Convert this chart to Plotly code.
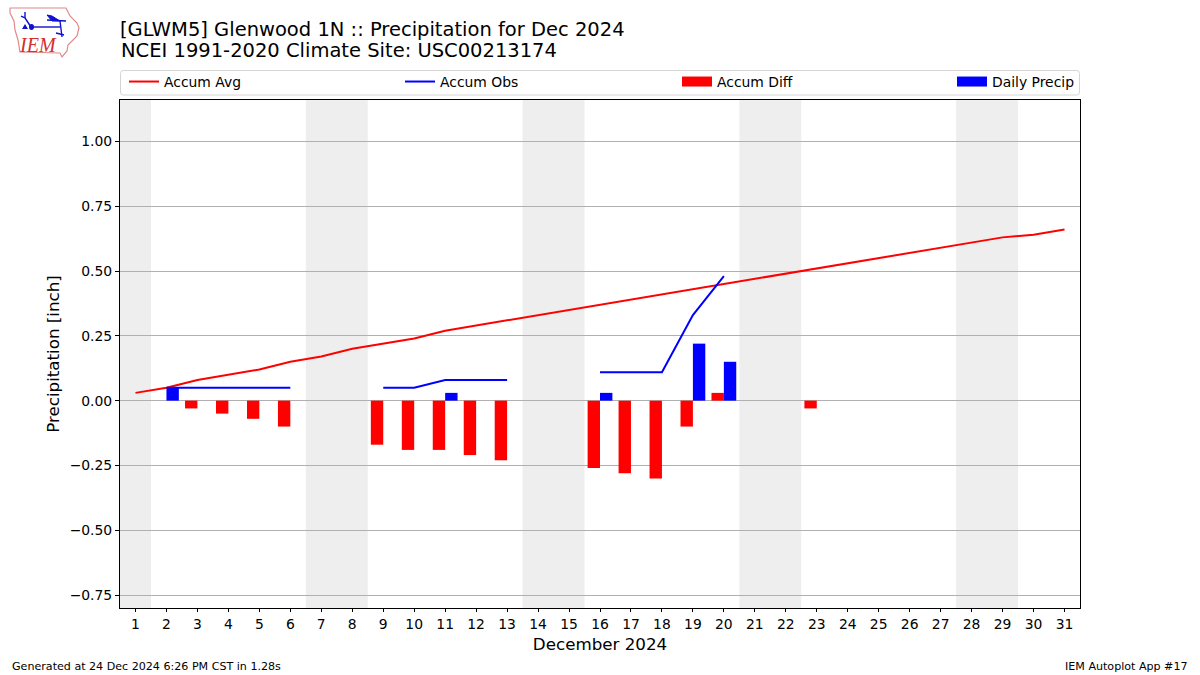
import plotly.graph_objects as go

days = list(range(1, 32))
accum_avg = [0.03, 0.05, 0.08, 0.10, 0.12, 0.15, 0.17, 0.20, 0.22, 0.24, 0.27, 0.29, 0.31, 0.33, 0.35, 0.37,
             0.39, 0.41, 0.43, 0.45, 0.47, 0.49, 0.51, 0.53, 0.55, 0.57, 0.59, 0.61, 0.63, 0.64, 0.66]
accum_obs = [None, 0.05, 0.05, 0.05, 0.05, 0.05, None, None, 0.05, 0.05, 0.08, 0.08, 0.08, None, None, 0.11,
             0.11, 0.11, 0.33, 0.48, None, None, None, None, None, None, None, None, None, None, None]
diff_days = [3, 4, 5, 6, 9, 10, 11, 12, 13, 16, 17, 18, 19, 20, 23]
accum_diff = [-0.03, -0.05, -0.07, -0.10, -0.17, -0.19, -0.19, -0.21, -0.23, -0.26, -0.28, -0.30, -0.10, 0.03, -0.03]
precip_days = [2, 11, 16, 19, 20]
daily_precip = [0.05, 0.03, 0.03, 0.22, 0.15]
weekend_spans = [(0.5, 1.5), (6.5, 8.5), (13.5, 15.5), (20.5, 22.5), (27.5, 29.5)]
y_ticks = [-0.75, -0.50, -0.25, 0.00, 0.25, 0.50, 0.75, 1.00]

FONT = "DejaVu Sans"
L, R, T, B = 120, 1080, 100, 608


def px(x):
    return (x - L) / (R - L)


def py(y):
    return (B - y) / (B - T)


def logo_path(points, close=False):
    d = "M " + " L ".join(f"{px(x):.5f},{py(y):.5f}" for x, y in points)
    return d + (" Z" if close else "")


fig = go.Figure()
fig.add_trace(go.Scatter(x=days, y=accum_avg, mode="lines", name="Accum Avg", legend="legend",
                         line=dict(color="#ff0000", width=2)))
fig.add_trace(go.Scatter(x=days, y=accum_obs, mode="lines", name="Accum Obs", legend="legend2",
                         line=dict(color="#0000ff", width=2), connectgaps=False))
fig.add_trace(go.Bar(x=diff_days, y=accum_diff, name="Accum Diff", showlegend=False,
                     marker=dict(color="#ff0000", line_width=0), width=0.4, offset=-0.4))
fig.add_trace(go.Bar(x=precip_days, y=daily_precip, name="Daily Precip", showlegend=False,
                     marker=dict(color="#0000ff", line_width=0), width=0.4, offset=0))
# legend keys for the bars: plotly's bar key is a small square, the reference has wide flat keys
fig.add_trace(go.Scatter(x=[None], y=[None], mode="lines", name="Accum Diff", legend="legend3",
                         line=dict(color="#ff0000", width=10)))
fig.add_trace(go.Scatter(x=[None], y=[None], mode="lines", name="Daily Precip", legend="legend4",
                         line=dict(color="#0000ff", width=10)))

shapes = [dict(type="rect", xref="x", yref="paper", x0=a, x1=b, y0=0, y1=1, fillcolor="#eeeeee",
               line_width=0, layer="below") for a, b in weekend_spans]

# legend frame (rounded)
lx0, lx1, ly0, ly1, r = px(120.5), px(1079.5), py(70.5), py(95), 3
rx, ry = r / (R - L), r / (B - T)
shapes.append(dict(type="path", xref="paper", yref="paper",
                   path=(f"M {lx0 + rx},{ly0} L {lx1 - rx},{ly0} Q {lx1},{ly0} {lx1},{ly0 - ry} "
                         f"L {lx1},{ly1 + ry} Q {lx1},{ly1} {lx1 - rx},{ly1} "
                         f"L {lx0 + rx},{ly1} Q {lx0},{ly1} {lx0},{ly1 + ry} "
                         f"L {lx0},{ly0 - ry} Q {lx0},{ly0} {lx0 + rx},{ly0} Z"),
                   line=dict(color="#d4d4d4", width=1), fillcolor="white"))

# IEM logo drawn in the top left margin
iowa = [(10, 8), (66, 8), (70, 16), (77, 23), (79, 28), (77, 36), (68, 45), (67, 51), (62, 57), (60, 53),
        (20, 52), (18, 40), (15, 30), (14, 21), (10, 13)]
shapes.append(dict(type="path", xref="paper", yref="paper", path=logo_path(iowa, True),
                   line=dict(color="#e08a8a", width=1.2), fillcolor="rgba(0,0,0,0)"))
logo_blue = [
    [(31, 27), (60, 27)],
    [(31, 27), (25, 18)],
    [(25, 18), (21, 16)], [(25, 18), (25, 12)],
    [(60, 21), (62, 37)], [(47, 20), (66, 21)],
    [(56, 33), (64, 35)],
]
for seg in logo_blue:
    shapes.append(dict(type="path", xref="paper", yref="paper", path=logo_path(seg),
                       line=dict(color="#1010d0", width=1.4)))
shapes.append(dict(type="path", xref="paper", yref="paper", path=logo_path([(47, 15), (52, 16), (60, 21), (52, 21)], True),
                   line=dict(color="#1010d0", width=1), fillcolor="#1010d0"))
shapes.append(dict(type="circle", xref="paper", yref="paper", x0=px(29), x1=px(34), y0=py(30), y1=py(24),
                   line_width=0, fillcolor="#1010d0"))
shapes.append(dict(type="path", xref="paper", yref="paper", path=logo_path([(25, 24), (28, 29), (22, 29)], True),
                   line_width=0, fillcolor="#1010d0"))

annotations = [
    dict(text="NCEI 1991-2020 Climate Site: USC00213174", xref="paper", yref="paper", x=0, y=py(51),
         xanchor="left", yanchor="middle", showarrow=False, xshift=-1,
         font=dict(family=FONT, size=19.5, color="#000000")),
    dict(text="Generated at 24 Dec 2024 6:26 PM CST in 1.28s", xref="paper", yref="paper", x=px(12), y=py(666),
         xanchor="left", yanchor="middle", showarrow=False, xshift=-2, font=dict(family=FONT, size=11.1, color="#000000")),
    dict(text="IEM Autoplot App #17", xref="paper", yref="paper", x=px(1188), y=py(666),
         xanchor="right", yanchor="middle", showarrow=False, xshift=2, font=dict(family=FONT, size=11.1, color="#000000")),
    dict(text="<i>IEM</i>", xref="paper", yref="paper", x=px(37.5), y=py(45.5),
         xanchor="center", yanchor="middle", showarrow=False,
         font=dict(family="Liberation Serif", size=20, color="#d03030")),
]


def legend_at(x_px):
    return dict(orientation="v", x=px(x_px), y=py(82), xref="paper", yref="paper", xanchor="left", yanchor="middle",
                itemwidth=30, bgcolor="rgba(0,0,0,0)", borderwidth=0, font=dict(family=FONT, size=13.9))


fig.update_layout(
    width=1200, height=675, autosize=False,
    margin=dict(l=L, r=1200 - R, t=T, b=675 - B, autoexpand=False),
    paper_bgcolor="white", plot_bgcolor="white",
    font=dict(family=FONT, size=14, color="#000000"),
    title=dict(text="[GLWM5] Glenwood 1N :: Precipitation for Dec 2024",
               x=px(120), xref="paper", xanchor="left", y=1 - 29 / 675, yref="container", yanchor="middle",
               font=dict(family=FONT, size=19.5, color="#000000")),
    barmode="overlay",
    shapes=shapes,
    annotations=annotations,
    showlegend=True,
    legend=legend_at(124),
    legend2=legend_at(400),
    legend3=legend_at(677),
    legend4=legend_at(952),
    xaxis=dict(range=[0.5, 31.5], tickmode="array", tickvals=days, ticktext=[str(d) for d in days],
               ticks="outside", ticklen=3, tickwidth=1, tickcolor="#000000", showgrid=False, zeroline=False,
               showline=True, linecolor="#000000", linewidth=1, mirror=True,
               tickfont=dict(family=FONT, size=13.9),
               title=dict(text="December 2024", font=dict(family=FONT, size=16.7), standoff=7)),
    yaxis=dict(range=[-0.80, 1.16], tickmode="array", tickvals=y_ticks, tickformat=".2f",
               ticks="outside", ticklen=4, tickwidth=1, tickcolor="#000000", showgrid=True, gridcolor="#b0b0b0",
               gridwidth=1, zeroline=False, showline=True, linecolor="#000000", linewidth=1, mirror=True,
               tickfont=dict(family=FONT, size=13.9),
               title=dict(text="Precipitation [inch]", font=dict(family=FONT, size=16.7), standoff=5)),
)

fig.write_html("out.html", config={"displayModeBar": False},
               post_script="document.body.style.margin='0';document.documentElement.style.overflow='hidden';")
